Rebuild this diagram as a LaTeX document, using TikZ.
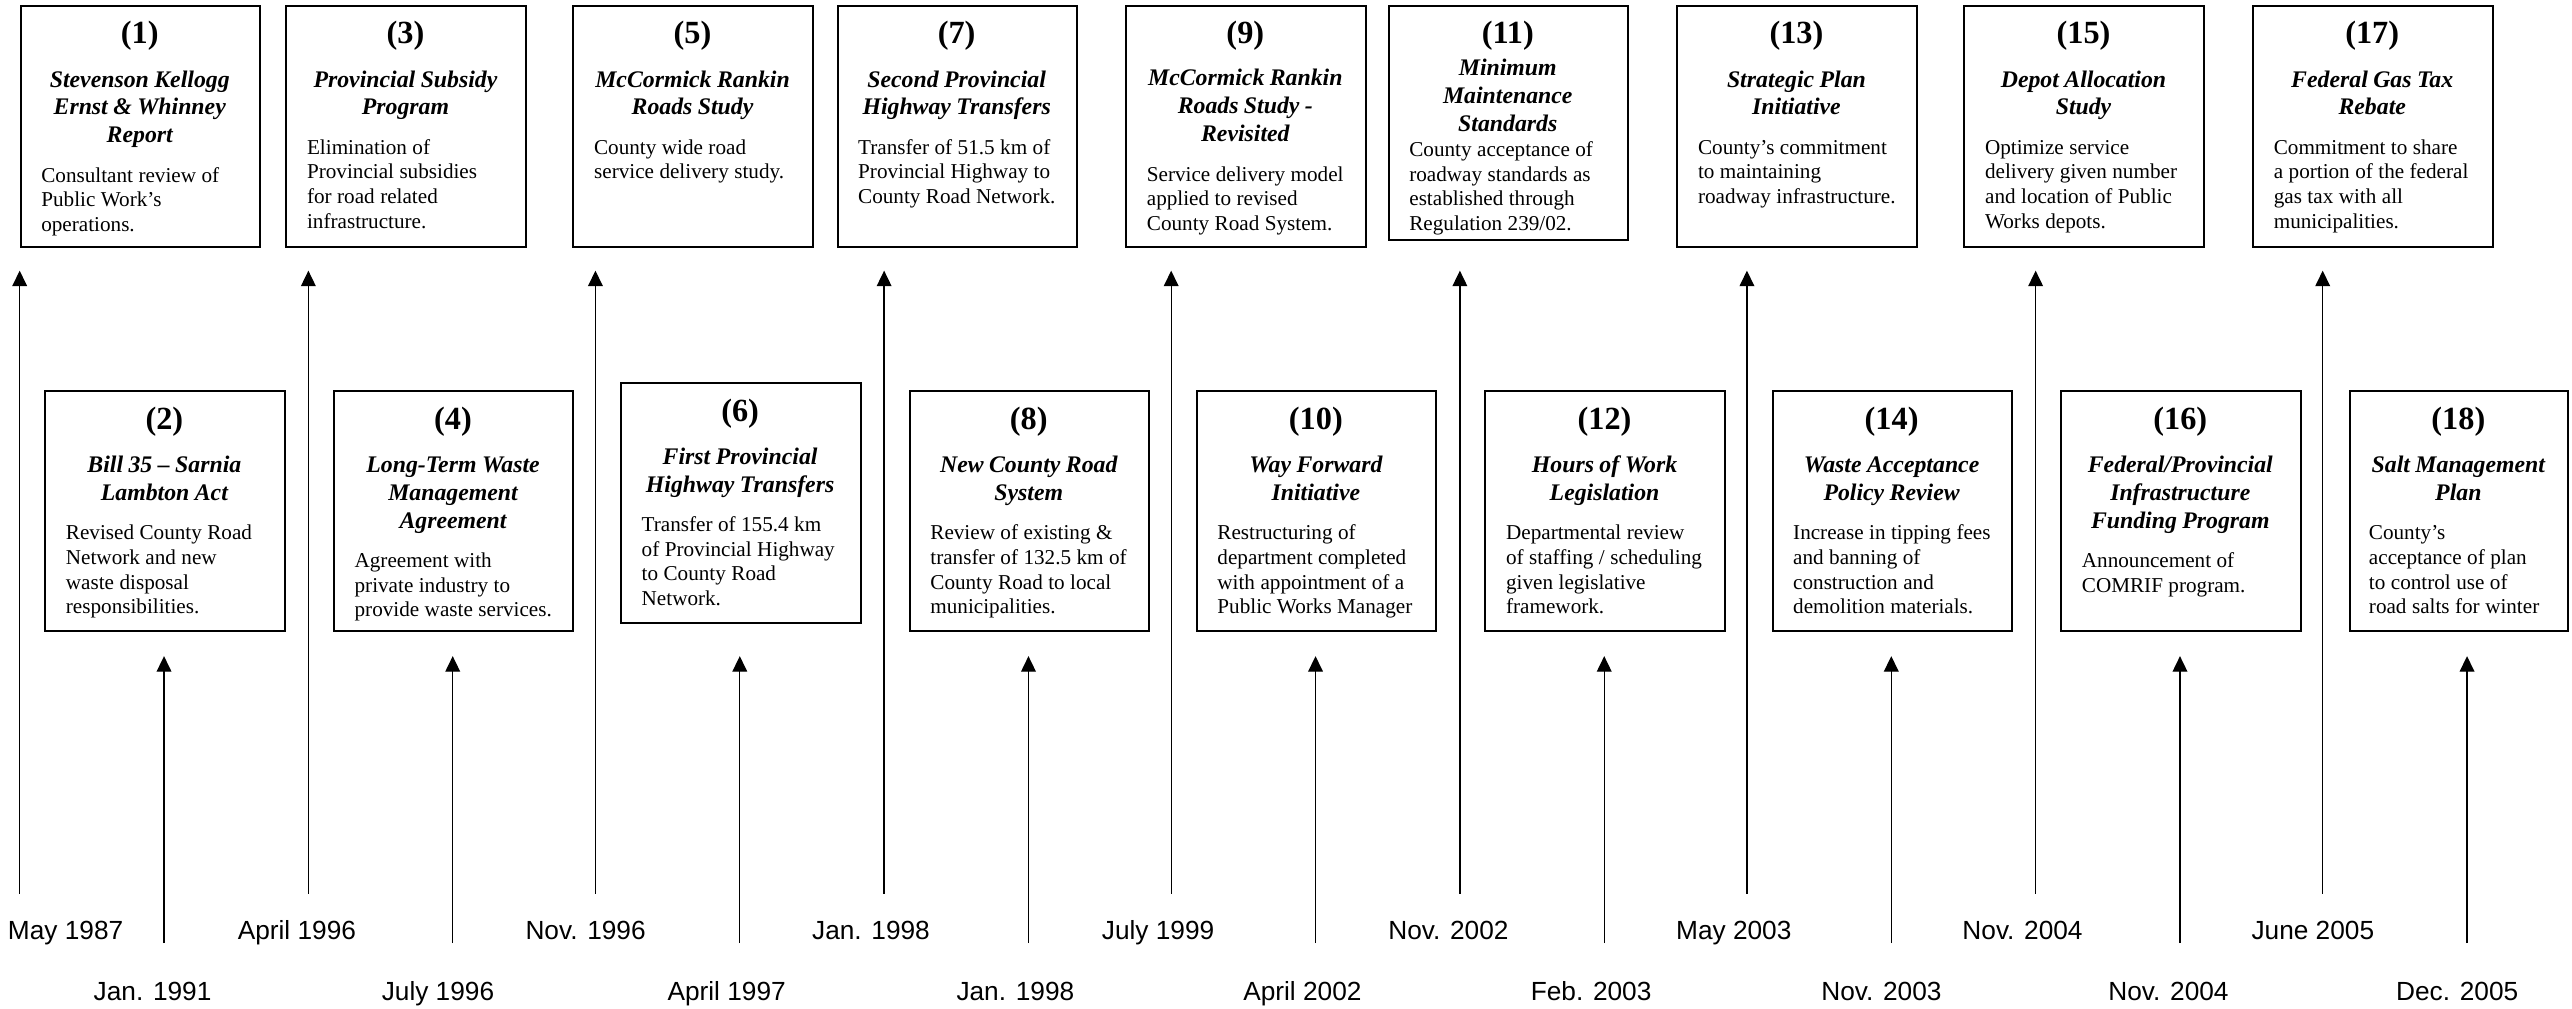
\documentclass[tikz,border=0pt]{standalone}
\usepackage{fontspec}
\setmainfont{Liberation Serif}
\newfontfamily\datefont{Liberation Sans}
\usetikzlibrary{arrows.meta}
\setlength\parindent{0pt}
\setlength\parskip{0pt}
\hfuzz=50pt
\hbadness=10000
\newcommand\evnum[1]{{\centering\fontsize{19.7}{22}\selectfont\bfseries\rule{0pt}{23.5pt}(#1)\par}}
\newcommand\evhead[2][9.4pt]{\vspace{#1}{\centering\fontsize{14.5}{17}\selectfont\bfseries\itshape #2\par}}
\newcommand\evbody[2][9pt]{\vspace{#1}{\hsize=150pt\raggedright\fontsize{12.9}{15}\selectfont #2\par}}
\tikzset{
  evbox/.style={draw, line width=1.2pt, inner sep=0pt, minimum width=146pt, minimum height=147pt, anchor=north west},
  evtext/.style={inner sep=0pt, text width=120pt, anchor=north west},
  evarrow/.style={line width=0.8pt, -{Triangle[length=9.5pt,width=9pt]}},
  evdate/.style={font=\datefont\fontsize{16}{18}\selectfont, anchor=base, inner sep=0pt}
}
\begin{document}
\begin{tikzpicture}[x=1pt,y=-1pt]
\useasboundingbox (0,0) rectangle (1568,615);
% ---------- top row boxes ----------
\node[evbox] (b1) at (12,3) {};
\node[evtext] (t1) at ([xshift=13pt]b1.north west) {\evnum{1}\evhead{Stevenson Kellogg\\Ernst \& Whinney\\Report}\evbody{Consultant review of\\Public Work’s\\operations.}};
\node[evbox] (b3) at (174,3) {};
\node[evtext] (t3) at ([xshift=13pt]b3.north west) {\evnum{3}\evhead{Provincial Subsidy\\Program}\evbody{Elimination of\\Provincial subsidies\\for road related\\infrastructure.}};
\node[evbox] (b5) at (349,3) {};
\node[evtext] (t5) at ([xshift=13pt]b5.north west) {\evnum{5}\evhead{McCormick Rankin\\Roads Study}\evbody{County wide road\\service delivery study.}};
\node[evbox] (b7) at (510,3) {};
\node[evtext] (t7) at ([xshift=13pt]b7.north west) {\evnum{7}\evhead{Second Provincial\\Highway Transfers}\evbody{Transfer of 51.5 km of\\Provincial Highway to\\County Road Network.}};
\node[evbox] (b9) at (686,3) {};
\node[evtext] (t9) at ([xshift=13pt]b9.north west) {\evnum{9}\evhead[8.7pt]{McCormick Rankin\\Roads Study -\\Revisited}\evbody{Service delivery model\\applied to revised\\County Road System.}};
\node[evbox, minimum height=143pt] (b11) at (846,3) {};
\node[evtext] (t11) at ([xshift=13pt]b11.north west) {\evnum{11}\evhead[2.4pt]{Minimum\\Maintenance\\Standards}\evbody[0.4pt]{County acceptance of\\roadway standards as\\established through\\Regulation 239/02.}};
\node[evbox] (b13) at (1022,3) {};
\node[evtext] (t13) at ([xshift=13pt]b13.north west) {\evnum{13}\evhead{Strategic Plan\\Initiative}\evbody{County’s commitment\\to maintaining\\roadway infrastructure.}};
\node[evbox] (b15) at (1197,3) {};
\node[evtext] (t15) at ([xshift=13pt]b15.north west) {\evnum{15}\evhead{Depot Allocation\\Study}\evbody{Optimize service\\delivery given number\\and location of Public\\Works depots.}};
\node[evbox] (b17) at (1373,3) {};
\node[evtext] (t17) at ([xshift=13pt]b17.north west) {\evnum{17}\evhead{Federal Gas Tax\\Rebate}\evbody{Commitment to share\\a portion of the federal\\gas tax with all\\municipalities.}};
% ---------- bottom row boxes ----------
\node[evbox, minimum height=146pt] (b2) at (27,238) {};
\node[evtext] (t2) at ([xshift=13pt]b2.north west) {\evnum{2}\evhead{Bill 35 – Sarnia\\Lambton Act}\evbody{Revised County Road\\Network and new\\waste disposal\\responsibilities.}};
\node[evbox, minimum height=146pt] (b4) at (203,238) {};
\node[evtext] (t4) at ([xshift=13pt]b4.north west) {\evnum{4}\evhead{Long-Term Waste\\Management\\Agreement}\evbody{Agreement with\\private industry to\\provide waste services.}};
\node[evbox, minimum height=146pt] (b6) at (378,233) {};
\node[evtext] (t6) at ([xshift=13pt]b6.north west) {\evnum{6}\evhead{First Provincial\\Highway Transfers}\evbody{Transfer of 155.4 km\\of Provincial Highway\\to County Road\\Network.}};
\node[evbox, minimum height=146pt] (b8) at (554,238) {};
\node[evtext] (t8) at ([xshift=13pt]b8.north west) {\evnum{8}\evhead{New County Road\\System}\evbody{Review of existing \&\\transfer of 132.5 km of\\County Road to local\\municipalities.}};
\node[evbox, minimum height=146pt] (b10) at (729,238) {};
\node[evtext] (t10) at ([xshift=13pt]b10.north west) {\evnum{10}\evhead{Way Forward\\Initiative}\evbody{Restructuring of\\department completed\\with appointment of a\\Public Works Manager}};
\node[evbox, minimum height=146pt] (b12) at (905,238) {};
\node[evtext] (t12) at ([xshift=13pt]b12.north west) {\evnum{12}\evhead{Hours of Work\\Legislation}\evbody{Departmental review\\of staffing / scheduling\\given legislative\\framework.}};
\node[evbox, minimum height=146pt] (b14) at (1080,238) {};
\node[evtext] (t14) at ([xshift=13pt]b14.north west) {\evnum{14}\evhead{Waste Acceptance\\Policy Review}\evbody{Increase in tipping fees\\and banning of\\construction and\\demolition materials.}};
\node[evbox, minimum height=146pt] (b16) at (1256,238) {};
\node[evtext] (t16) at ([xshift=13pt]b16.north west) {\evnum{16}\evhead{Federal/Provincial\\Infrastructure\\Funding Program}\evbody{Announcement of\\COMRIF program.}};
\node[evbox, minimum height=146pt, minimum width=133pt] (b18) at (1432,238) {};
\node[evtext, text width=109pt] (t18) at ([xshift=12pt]b18.north west) {\evnum{18}\evhead{Salt Management\\Plan}\evbody{County’s\\acceptance of plan\\to control use of\\road salts for winter}};
% ---------- arrows ----------
\foreach \i/\x in {1/12,3/188,5/363,7/539,9/714,11/890,13/1065,15/1241,17/1416}{
  \coordinate (s\i) at (\x,545);
  \coordinate (e\i) at (\x,165);
  \draw[evarrow] (s\i) -- (e\i);
}
\foreach \i/\x in {2/100,4/276,6/451,8/627,10/802,12/978,14/1153,16/1329,18/1504}{
  \coordinate (s\i) at (\x,575);
  \coordinate (e\i) at (\x,400);
  \draw[evarrow] (s\i) -- (e\i);
}
% ---------- dates ----------
\node[evdate] (d1) at (40,573) {May 1987};
\node[evdate] (d3) at (181,573) {April 1996};
\node[evdate] (d5) at (357,573) {Nov. 1996};
\node[evdate] (d7) at (531,573) {Jan. 1998};
\node[evdate] (d9) at (706,573) {July 1999};
\node[evdate] (d11) at (883,573) {Nov. 2002};
\node[evdate] (d13) at (1057,573) {May 2003};
\node[evdate] (d15) at (1233,573) {Nov. 2004};
\node[evdate] (d17) at (1410,573) {June 2005};
\node[evdate] (d2) at (93,610) {Jan. 1991};
\node[evdate] (d4) at (267,610) {July 1996};
\node[evdate] (d6) at (443,610) {April 1997};
\node[evdate] (d8) at (619,610) {Jan. 1998};
\node[evdate] (d10) at (794,610) {April 2002};
\node[evdate] (d12) at (970,610) {Feb. 2003};
\node[evdate] (d14) at (1147,610) {Nov. 2003};
\node[evdate] (d16) at (1322,610) {Nov. 2004};
\node[evdate] (d18) at (1498,610) {Dec. 2005};
\end{tikzpicture}
\end{document}
